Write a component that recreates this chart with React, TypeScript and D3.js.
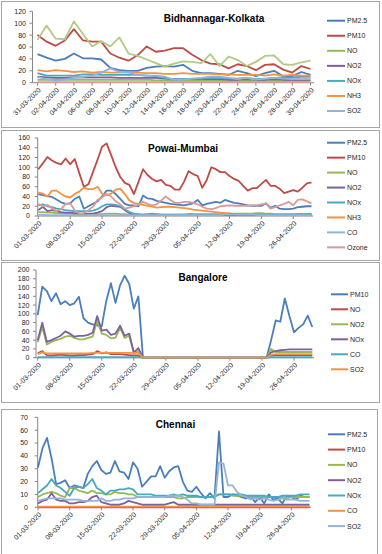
import React from "react";
import * as d3 from "d3";

// ---------- tick labels ----------
const kolkataTicks = ["31-03-2020","02-04-2020","04-04-2020","06-04-2020","08-04-2020","10-04-2020","12-04-2020","14-04-2020","16-04-2020","18-04-2020","20-04-2020","22-04-2020","24-04-2020","26-04-2020","28-04-2020","30-04-2020"];
const weeklyTicks = ["01-03-2020","08-03-2020","15-03-2020","22-03-2020","29-03-2020","05-04-2020","12-04-2020","19-04-2020","26-04-2020"];

// ---------- Bidhannagar-Kolkata (31-03 .. 30-04) ----------
const kolPM25 = [48,42,37,40,49,41,41,39,25,21,20,20,25,27,28,27,30,20,16,16,15,13,20,16,11,16,20,11,11,18,13];
const kolPM10 = [80,69,62,71,90,71,69,69,49,42,37,46,61,52,54,58,58,47,38,32,31,24,31,28,21,30,31,22,17,28,23];
const kolNO = [5,5,5,5,5,5,5,5,5,5,5,5,5,4,4,3,3,3,3,3,3,3,3,3,3,3,3,3,3,3,3];
const kolNO2 = [10,9,8,8,9,9,9,9,9,8,8,8,8,8,7,6,6,6,6,6,6,5,5,6,5,5,6,5,5,5,5];
const kolNOx = [16,12,12,12,12,14,14,13,13,13,13,13,12,11,8,5,6,7,7,8,8,7,7,8,6,6,8,9,9,10,10];
const kolNH3 = [21,19,21,20,18,19,17,18,17,17,18,17,16,16,15,15,16,15,15,15,14,14,13,13,13,12,14,12,13,12,12];
const kolSO2 = [10,6,3,5,8,10,12,17,24,18,17,13,12,12,10,5,5,7,8,10,10,8,6,8,5,7,8,7,6,6,6];
const kolCO = [1,1,1,1,1,1,1,1,1,1,1,1,1,1,1,1,1,1,1,1,1,1,1,1,1,1,1,1,1,1,1];
const kolOzone = [72,96,74,73,103,82,61,70,61,76,49,45,39,33,27,32,36,35,33,48,28,44,38,28,35,45,46,31,30,34,37];

// ---------- Powai-Mumbai (01-03 .. 30-04) ----------
const mumPM25 = [45,43,41,39,34,28,25,26,35,40,15,20,25,30,40,52,52,45,35,25,22,22,20,42,36,35,31,29,27,25,24,23,22,24,26,33,22,25,27,29,27,33,30,27,26,24,22,21,21,21,26,17,21,15,14,14,15,18,19,20,20];
const mumPM10 = [96,108,121,114,109,106,118,106,117,88,60,65,90,115,142,149,125,100,80,68,64,45,70,96,84,76,71,74,64,62,54,54,70,92,86,82,58,74,100,96,90,90,82,76,72,62,52,57,57,66,74,62,62,56,47,50,53,50,58,67,69];
const mumNO = [8,8,7,7,6,6,5,5,4,4,4,4,4,4,4,5,5,5,4,4,3,3,3,3,3,3,3,3,3,3,3,3,3,3,3,4,4,4,4,4,4,4,5,5,5,5,5,5,6,6,5,5,4,4,4,4,4,4,4,4,4];
const mumNO2 = [12,19,10,12,10,8,7,7,6,5,5,5,5,7,10,18,21,20,19,12,6,3,2,2,2,2,2,2,2,2,2,2,2,2,2,2,2,2,2,2,2,2,2,2,2,2,2,2,2,2,2,2,2,2,2,2,2,2,2,2,2];
const mumNOx = [22,24,20,18,15,14,12,11,10,10,10,10,11,14,20,24,24,23,20,14,8,5,4,3,4,5,4,3,3,3,3,3,3,4,4,3,3,3,3,3,3,4,5,4,3,3,3,3,3,3,3,3,3,3,3,3,3,4,4,4,5];
const mumNH3 = [48,46,40,52,52,45,40,38,45,50,58,55,55,60,46,43,46,54,56,45,32,27,25,23,21,19,17,18,19,19,18,17,16,15,13,12,11,10,9,8,7,6,6,null,null,null,null,null,null,null,null,null,null,null,null,null,null,null,null,null,null];
const mumCO = [3,3,2,2,2,2,2,2,2,2,2,2,2,2,2,2,2,2,2,2,2,2,2,2,2,2,2,2,2,2,2,2,2,2,2,2,2,2,2,2,2,3,3,3,3,3,3,3,2,2,2,2,2,2,2,2,2,2,2,2,2];
const mumOzone = [25,20,23,16,10,14,25,26,12,5,6,12,19,33,38,45,40,30,24,15,17,20,23,29,25,22,24,32,40,33,27,27,29,29,27,24,19,15,14,16,20,21,22,21,21,21,21,22,22,24,26,15,18,22,25,29,22,33,34,30,26];

// ---------- Bangalore (01-03 .. 30-04) ----------
const blrPM10 = [97,162,152,129,147,122,129,120,124,139,90,80,76,74,72,130,170,125,165,187,168,112,140,0,0,0,0,0,0,0,0,0,0,0,0,0,0,0,0,0,0,0,0,0,0,0,0,0,0,0,0,40,85,82,135,95,58,68,76,96,70];
const blrNO = [10,15,6,5,6,7,6,5,5,6,6,7,8,15,10,12,8,8,8,7,6,5,5,0,0,0,0,0,0,0,0,0,0,0,0,0,0,0,0,0,0,0,0,0,0,0,0,0,0,0,0,5,6,6,6,6,6,6,6,6,6];
const blrNO2 = [35,70,30,36,40,43,48,50,45,42,42,45,48,85,55,52,44,46,68,45,50,10,15,0,0,0,0,0,0,0,0,0,0,0,0,0,0,0,0,0,0,0,0,0,0,0,0,0,0,0,0,20,13,13,13,13,13,13,13,13,13];
const blrNOx = [40,80,36,40,45,50,60,55,48,50,50,52,57,95,62,64,52,55,73,50,55,12,22,0,0,0,0,0,0,0,0,0,0,0,0,0,0,0,0,0,0,0,0,0,0,0,0,0,0,0,0,12,15,17,18,19,19,19,19,19,19];
const blrCO = [1,1,1,1,1,1,1,1,1,1,1,1,1,1,1,1,1,1,1,1,1,1,1,0,0,0,0,0,0,0,0,0,0,0,0,0,0,0,0,0,0,0,0,0,0,0,0,0,0,0,0,1,1,1,1,1,1,1,1,1,1];
const blrSO2 = [8,12,10,10,10,10,10,10,10,10,10,10,11,11,11,11,11,11,11,11,11,11,11,0,0,0,0,0,0,0,0,0,0,0,0,0,0,0,0,0,0,0,0,0,0,0,0,0,0,0,0,7,8,8,8,8,8,8,8,8,8];

// ---------- Chennai (01-03 .. 30-04) ----------
const chePM25 = [31,46,54,38,18,19,21,15,17,16,15,26,32,36,29,26,27,36,28,27,22,35,30,16,20,24,24,32,23,28,31,32,20,13,12,16,11,7,11,7,59,8,8,10,9,8,7,8,4,8,3,10,6,7,3,9,8,6,9,8,8];
const chePM10 = [0,0,0,0,0,0,0,0,0,0,0,0,0,0,0,0,0,0,0,0,0,0,0,0,0,0,0,0,0,0,0,0,0,0,0,0,0,0,0,0,0,0,0,0,0,0,0,0,0,0,0,0,0,0,0,0,0,0,0,0,0];
const cheNO = [8,10,11,12,11,9,8,15,15,13,12,11,13,11,11,10,10,12,11,11,10,10,8,8,8,8,8,8,8,8,8,7,7,8,8,8,8,8,8,9,10,10,10,9,9,9,9,8,8,8,8,8,8,8,8,7,8,8,8,8,8];
const cheNO2 = [3,5,6,11,6,5,5,3,3,4,4,5,8,9,4,3,2,2,2,3,5,4,3,2,2,2,2,2,2,3,4,2,2,2,2,2,2,2,2,2,2,2,2,2,2,2,2,2,2,2,2,2,2,2,2,2,2,2,2,2,2];
const cheNOx = [11,14,17,22,17,15,12,9,15,16,15,18,22,15,13,10,13,13,14,14,15,14,10,10,10,10,9,9,9,9,10,9,10,9,9,9,8,8,8,8,10,10,10,10,10,10,9,9,9,9,9,8,8,8,9,9,9,9,10,10,10];
const cheCO = [0.6,0.6,0.6,0.6,0.6,0.6,0.6,0.6,0.6,0.6,0.6,0.6,0.6,0.6,0.6,0.6,0.6,0.6,0.6,0.6,0.6,0.6,0.6,0.6,0.6,0.6,0.6,0.6,0.6,0.6,0.6,0.6,0.6,0.6,0.6,0.6,0.6,0.6,0.6,0.6,0.6,0.6,0.6,0.6,0.6,0.6,0.6,0.6,0.6,0.6,0.6,0.6,0.6,0.6,0.6,0.6,0.6,0.6,0.6,0.6,0.6];
const cheSO2 = [5,6,7,7,7,7,6,6,6,6,5,5,5,5,7,5,5,6,6,7,7,7,8,8,8,8,8,8,8,9,9,9,8,6,3,3,2,2,2,2,35,34,17,17,12,9,8,6,7,6,7,6,5,6,7,6,6,6,5,5,5];

// ---------- colours ----------
const C = {
  blue: "#4A7EBB",
  red: "#BE4B48",
  green: "#98B954",
  purple: "#7D60A0",
  teal: "#46AAC5",
  orange: "#F69240",
  lightBlue: "#93B3D8",
  pink: "#DB9A98",
  lightGreen: "#AFCB85",
};

type S = { name: string; values: (number | null)[]; color: string; legend: boolean };
type P = {
  title: string; titleX: number; titleY: number;
  box: [number, number, number, number];
  axisX: number; plotRight: number; yBottom: number; yTop: number;
  yMax: number; yStep: number; yLabelRight: number;
  x0: number; x1: number;
  ticks: string[]; tickEvery: number;
  legLine: [number, number]; legText: number; legY0: number; legStep: number;
  series: S[];
};

const panels: P[] = [
  {
    title: "Bidhannagar-Kolkata", titleX: 214, titleY: 22,
    box: [1.5, 1.5, 378, 126],
    axisX: 32.5, plotRight: 314, yBottom: 82.7, yTop: 11.3, yMax: 120, yStep: 20, yLabelRight: 26,
    x0: 37.5, x1: 310.5, ticks: kolkataTicks, tickEvery: 2,
    legLine: [327, 345], legText: 347, legY0: 20.7, legStep: 15.05,
    series: [
      { name: "PM2.5", values: kolPM25, color: C.blue, legend: true },
      { name: "PM10", values: kolPM10, color: C.red, legend: true },
      { name: "NO", values: kolNO, color: C.green, legend: true },
      { name: "NO2", values: kolNO2, color: C.purple, legend: true },
      { name: "NOx", values: kolNOx, color: C.teal, legend: true },
      { name: "NH3", values: kolNH3, color: C.orange, legend: true },
      { name: "SO2", values: kolSO2, color: C.lightBlue, legend: true },
      { name: "CO", values: kolCO, color: C.pink, legend: false },
      { name: "Ozone", values: kolOzone, color: C.lightGreen, legend: false },
    ],
  },
  {
    title: "Powai-Mumbai", titleX: 183, titleY: 152,
    box: [1.5, 130.5, 378, 130],
    axisX: 37.7, plotRight: 313, yBottom: 216, yTop: 138, yMax: 160, yStep: 20, yLabelRight: 30,
    x0: 38.3, x1: 311.5, ticks: weeklyTicks, tickEvery: 7,
    legLine: [327, 345], legText: 347, legY0: 142.7, legStep: 14.95,
    series: [
      { name: "PM2.5", values: mumPM25, color: C.blue, legend: true },
      { name: "PM10", values: mumPM10, color: C.red, legend: true },
      { name: "NO", values: mumNO, color: C.green, legend: true },
      { name: "NO2", values: mumNO2, color: C.purple, legend: true },
      { name: "NOx", values: mumNOx, color: C.teal, legend: true },
      { name: "NH3", values: mumNH3, color: C.orange, legend: true },
      { name: "CO", values: mumCO, color: C.lightBlue, legend: true },
      { name: "Ozone", values: mumOzone, color: C.pink, legend: true },
    ],
  },
  {
    title: "Bangalore", titleX: 203, titleY: 281,
    box: [1.5, 262.5, 378, 140],
    axisX: 36, plotRight: 314, yBottom: 357.7, yTop: 270, yMax: 200, yStep: 20, yLabelRight: 29.5,
    x0: 37.7, x1: 312.3, ticks: weeklyTicks, tickEvery: 7,
    legLine: [331, 348], legText: 350, legY0: 294.3, legStep: 15,
    series: [
      { name: "PM10", values: blrPM10, color: C.blue, legend: true },
      { name: "NO", values: blrNO, color: C.red, legend: true },
      { name: "NO2", values: blrNO2, color: C.green, legend: true },
      { name: "NOx", values: blrNOx, color: C.purple, legend: true },
      { name: "CO", values: blrCO, color: C.teal, legend: true },
      { name: "SO2", values: blrSO2, color: C.orange, legend: true },
    ],
  },
  {
    title: "Chennai", titleX: 175.5, titleY: 428,
    box: [1.5, 409.5, 376, 150],
    axisX: 37.7, plotRight: 311, yBottom: 507.3, yTop: 417.3, yMax: 70, yStep: 10, yLabelRight: 28,
    x0: 38, x1: 309.5, ticks: weeklyTicks, tickEvery: 7,
    legLine: [328, 345], legText: 347, legY0: 434.3, legStep: 15.3,
    series: [
      { name: "PM2.5", values: chePM25, color: C.blue, legend: true },
      { name: "PM10", values: chePM10, color: C.red, legend: true },
      { name: "NO", values: cheNO, color: C.green, legend: true },
      { name: "NO2", values: cheNO2, color: C.purple, legend: true },
      { name: "NOx", values: cheNOx, color: C.teal, legend: true },
      { name: "CO", values: cheCO, color: C.orange, legend: true },
      { name: "SO2", values: cheSO2, color: C.lightBlue, legend: true },
    ],
  },
];

const FONT = "'Liberation Sans', Arial, sans-serif";
const AXIS = "#868686";

function Panel({ p }: { p: P }) {
  const n = p.series[0].values.length;
  const x = d3.scaleLinear().domain([0, n - 1]).range([p.x0, p.x1]);
  const y = d3.scaleLinear().domain([0, p.yMax]).range([p.yBottom, p.yTop]);
  const line = d3
    .line<number | null>()
    .defined((d) => d != null)
    .x((_, i) => x(i))
    .y((d) => y(d as number));
  const yTicks = d3.range(0, p.yMax + 0.001, p.yStep);
  const legendSeries = p.series.filter((s) => s.legend);
  return (
    <g>
      <rect x={p.box[0]} y={p.box[1]} width={p.box[2]} height={p.box[3]} fill="#fff" stroke="#A6A6A6" strokeWidth={1} />
      {/* y axis */}
      <line x1={p.axisX} x2={p.axisX} y1={p.yTop} y2={p.yBottom} stroke={AXIS} strokeWidth={1} />
      {yTicks.map((t) => (
        <g key={t}>
          <line x1={p.axisX - 3} x2={p.axisX} y1={y(t)} y2={y(t)} stroke={AXIS} />
          <text x={p.yLabelRight} y={y(t)} dy="0.35em" textAnchor="end" fontSize={7} fontFamily={FONT} fill="#262626">
            {t}
          </text>
        </g>
      ))}
      {/* x axis */}
      <line x1={p.axisX} x2={p.plotRight} y1={p.yBottom} y2={p.yBottom} stroke={AXIS} strokeWidth={1} />
      {p.ticks.map((lab, k) => {
        const tx = x(k * p.tickEvery);
        return (
          <g key={lab}>
            <line x1={tx} x2={tx} y1={p.yBottom} y2={p.yBottom + 3} stroke={AXIS} />
            <text
              transform={`translate(${tx + 2},${p.yBottom + 6}) rotate(-45)`}
              textAnchor="end"
              dy="0.35em"
              fontSize={7}
              fontFamily={FONT}
              fill="#262626"
            >
              {lab}
            </text>
          </g>
        );
      })}
      {/* series */}
      {p.series.map((s) => (
        <path key={s.name} d={line(s.values) || ""} fill="none" stroke={s.color} strokeWidth={1.8} strokeLinejoin="round" />
      ))}
      {/* title */}
      <text x={p.titleX} y={p.titleY} textAnchor="middle" fontSize={10} fontWeight="bold" fontFamily={FONT} fill="#000">
        {p.title}
      </text>
      {/* legend */}
      {legendSeries.map((s, k) => {
        const ly = p.legY0 + k * p.legStep;
        return (
          <g key={s.name}>
            <line x1={p.legLine[0]} x2={p.legLine[1]} y1={ly} y2={ly} stroke={s.color} strokeWidth={2} />
            <text x={p.legText} y={ly} dy="0.35em" fontSize={7} fontFamily={FONT} fill="#262626">
              {s.name}
            </text>
          </g>
        );
      })}
    </g>
  );
}

export default function App() {
  return (
    <svg
      width={382}
      height={554}
      style={{ position: "absolute", left: 0, top: 0, background: "#fff" }}
      xmlns="http://www.w3.org/2000/svg"
    >
      <rect x={0} y={0} width={382} height={554} fill="#fff" />
      {panels.map((p) => (
        <Panel key={p.title} p={p} />
      ))}
    </svg>
  );
}
